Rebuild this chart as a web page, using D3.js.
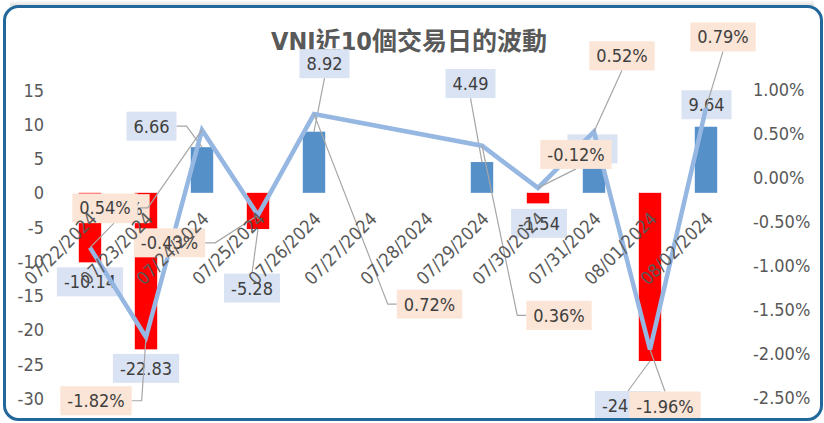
<!DOCTYPE html>
<html>
<head>
<meta charset="utf-8">
<script src="https://cdn.jsdelivr.net/npm/d3@7"></script>
<style>
  html, body { margin: 0; padding: 0; background: #ffffff; }
  svg { display: block; }
  text { font-family: "DejaVu Sans Condensed", "DejaVu Sans", sans-serif; }
</style>
</head>
<body>
<div id="chart"></div>
<script>
"use strict";

// Categories on the date axis (weekends included, no data)
var dates = ["07/22/2024", "07/23/2024", "07/24/2024", "07/25/2024", "07/26/2024", "07/27/2024",
             "07/28/2024", "07/29/2024", "07/30/2024", "07/31/2024", "08/01/2024", "08/02/2024"];

// Trading days and their values
var tradeDates = ["07/22/2024", "07/23/2024", "07/24/2024", "07/25/2024", "07/26/2024",
                  "07/29/2024", "07/30/2024", "07/31/2024", "08/01/2024", "08/02/2024"];
var pointChange = [-10.14, -22.83, 6.66, -5.28, 8.92, 4.49, -1.54, 6.48, -24.53, 9.64];
var pctChange = [-0.80, -1.82, 0.54, -0.43, 0.72, 0.36, -0.12, 0.52, -1.96, 0.79];

// Axis ticks
var leftTicks = [15, 10, 5, 0, -5, -10, -15, -20, -25, -30];
var rightTicks = [1.0, 0.5, 0.0, -0.5, -1.0, -1.5, -2.0, -2.5];

var title = "VNI近10個交易日的波動";

// Label placement (pixel offset from the mark, leader style)
var valueLabelPos = [
    {dx: 0, dy: 19.5, lead: "none"},
    {dx: 0, dy: 19, lead: "none"},
    {dx: -50.5, dy: -21, lead: "right"},
    {dx: -6, dy: 59, lead: "top"},
    {dx: 10.5, dy: -68, lead: "bottom"},
    {dx: -11.5, dy: -78.5, lead: "bottom"},
    {dx: 1, dy: 20, lead: "none"},
    {dx: -1.5, dy: 0.5, lead: "none"},
    {dx: -22, dy: 44.5, lead: "top"},
    {dx: 0.5, dy: -22, lead: "none"}
];
var pctLabelPos = [
    {dx: 24, dy: -39, lead: "bottom"},
    {dx: -50, dy: 63.5, lead: "right"},
    {dx: -97, dy: 78, lead: "right"},
    {dx: -88.5, dy: 27.7, lead: "right"},
    {dx: 115.5, dy: 190, lead: "left"},
    {dx: 77, dy: 169.6, lead: "left"},
    {dx: 38, dy: -33.5, lead: "bottom"},
    {dx: 28, dy: -75.8, lead: "bottom"},
    {dx: 15, dy: 56.5, lead: "top"},
    {dx: 17, dy: -71, lead: "bottom"}
];

var W = 824, H = 423;
var plot = {left: 62, right: 734, top: 90, bottom: 398.5};

var svg = d3.select("#chart").append("svg")
    .attr("width", W)
    .attr("height", H);

var xScale = d3.scaleBand().domain(dates).range([plot.left, plot.right]).paddingInner(0.6).paddingOuter(0.3);
var yLeft = d3.scaleLinear().domain([-30, 15]).range([plot.bottom, plot.top]);
var yRight = d3.scaleLinear().domain([-2.5, 1]).range([plot.bottom - 1.5, plot.top - 0.5]);

function cx(d) {
    return xScale(d) + xScale.bandwidth() / 2;
}

// faint shadow along the top edge
var grad = svg.append("defs").append("linearGradient")
    .attr("id", "shade")
    .attr("x1", 0).attr("y1", 0).attr("x2", 0).attr("y2", 1);
grad.append("stop").attr("offset", "0%").attr("stop-color", "#ffffff");
grad.append("stop").attr("offset", "100%").attr("stop-color", "#dcdcdc");
svg.append("rect")
    .attr("x", 10).attr("y", 0).attr("width", W - 20).attr("height", 6)
    .attr("fill", "url(#shade)");

// Title
svg.append("text")
    .attr("x", 409)
    .attr("y", 50)
    .attr("text-anchor", "middle")
    .style("font-family", "'DejaVu Sans Condensed', 'Noto Sans CJK TC', sans-serif")
    .style("font-weight", "bold")
    .style("font-size", "25px")
    .attr("fill", "#595959")
    .text(title);

// Left axis labels
svg.append("g").selectAll("text")
    .data(leftTicks)
    .enter().append("text")
    .attr("x", 44)
    .attr("y", function (d) { return yLeft(d) + 6.5; })
    .attr("text-anchor", "end")
    .style("font-size", "18px")
    .attr("fill", "#595959")
    .text(function (d) { return d; });

// Right axis labels
var pctFmt = function (d) { return d.toFixed(2) + "%"; };
svg.append("g").selectAll("text")
    .data(rightTicks)
    .enter().append("text")
    .attr("x", 753)
    .attr("y", function (d) { return yRight(d) + 6.5; })
    .attr("text-anchor", "start")
    .style("font-size", "18px")
    .attr("fill", "#595959")
    .text(pctFmt);

// Bars
svg.append("g").selectAll("rect")
    .data(pointChange)
    .enter().append("rect")
    .attr("x", function (d, i) { return xScale(tradeDates[i]); })
    .attr("width", xScale.bandwidth())
    .attr("y", function (d) { return Math.min(yLeft(d), yLeft(0)); })
    .attr("height", function (d) { return Math.abs(yLeft(d) - yLeft(0)); })
    .attr("fill", function (d) { return d < 0 ? "#ff0000" : "#5690c8"; });

// Data labels helper
function drawLabels(values, pos, anchorY, fmt, fill) {
    var g = svg.append("g");
    values.forEach(function (v, i) {
        var ax = cx(tradeDates[i]);
        var ay = anchorY(v);
        var lx = ax + pos[i].dx;
        var ly = ay + pos[i].dy;
        var txt = fmt(v);

        var t = g.append("text")
            .attr("x", lx)
            .attr("y", ly + 6.5)
            .attr("text-anchor", "middle")
            .style("font-size", "18px")
            .attr("fill", "#404040")
            .text(txt);
        var tw = t.node().getComputedTextLength();
        var bw = tw + 14, bh = 29;

        // leader line
        var pts = null;
        if (pos[i].lead === "right") {
            pts = [[lx + bw / 2, ly], [lx + bw / 2 + 10, ly], [ax, ay]];
        } else if (pos[i].lead === "left") {
            pts = [[lx - bw / 2, ly], [lx - bw / 2 - 9, ly], [ax, ay]];
        } else if (pos[i].lead === "bottom") {
            pts = [[lx, ly + bh / 2], [ax, ay]];
        } else if (pos[i].lead === "top") {
            pts = [[lx, ly - bh / 2], [ax, ay]];
        }
        if (pts) {
            g.insert("path", "text")
                .attr("d", d3.line()(pts))
                .attr("fill", "none")
                .attr("stroke", "#a6a6a6")
                .attr("stroke-width", 1.2);
        }
        g.insert("rect", function () { return t.node(); })
            .attr("x", lx - bw / 2)
            .attr("y", ly - bh / 2)
            .attr("width", bw)
            .attr("height", bh)
            .attr("fill", fill);
    });
    return g;
}

// Value labels (under the line)
drawLabels(pointChange, valueLabelPos, yLeft, function (d) { return d.toFixed(2); }, "#dae3f3");

// Percent line
var line = d3.line()
    .x(function (d, i) { return cx(tradeDates[i]); })
    .y(function (d) { return yRight(d); });

svg.append("path")
    .datum(pctChange)
    .attr("d", line)
    .attr("fill", "none")
    .attr("stroke", "#95b7e2")
    .attr("stroke-width", 4.5)
    .attr("stroke-linejoin", "miter");

// Percent labels
drawLabels(pctChange, pctLabelPos, yRight, pctFmt, "#fbe5d6");

// Category labels on top
svg.append("g").selectAll("text")
    .data(dates)
    .enter().append("text")
    .attr("transform", function (d) {
        return "translate(" + (cx(d) + 8) + "," + 220 + ")rotate(-45)";
    })
    .attr("text-anchor", "end")
    .style("font-size", "18px")
    .attr("fill", "#595959")
    .text(function (d) { return d; });

// Chart border
svg.append("rect")
    .attr("x", 4.5).attr("y", 6.5).attr("width", W - 7).attr("height", H - 10)
    .attr("rx", 14)
    .attr("fill", "none")
    .attr("stroke", "#23689a")
    .attr("stroke-width", 3);
</script>
</body>
</html>
